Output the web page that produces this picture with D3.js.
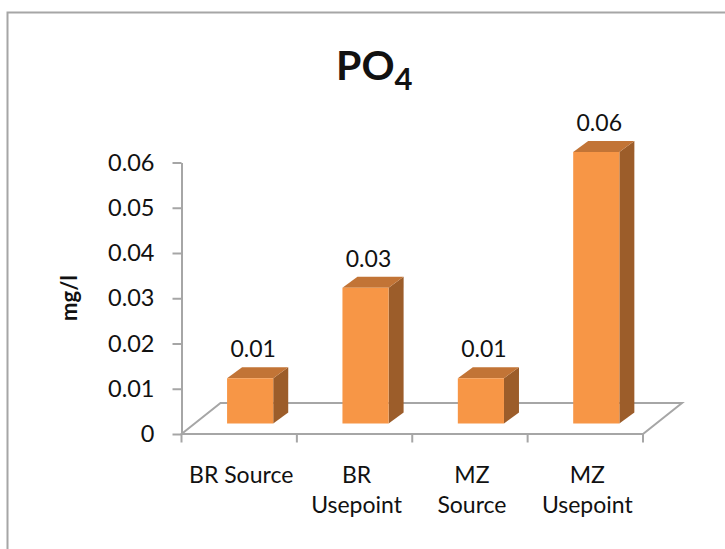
<!DOCTYPE html>
<html>
<head>
<meta charset="utf-8">
<script src="https://cdn.jsdelivr.net/npm/d3@7"></script>
<style>
  body { margin: 0; background: #fff; }
  text { font-family: Lato, "Open Sans", sans-serif; fill: #111; }
</style>
</head>
<body>
<script>
// data
const categories = [["BR Source"], ["BR", "Usepoint"], ["MZ", "Source"], ["MZ", "Usepoint"]];
const values = [0.01, 0.03, 0.01, 0.06];
const yTicks = [0, 0.01, 0.02, 0.03, 0.04, 0.05, 0.06];

const width = 725;
const height = 549;

var svg = d3.select('body')
    .append('svg')
    .attr('width', width)
    .attr('height', height);

// chart area border (runs off the right and bottom edge)
svg.append('rect')
    .attr('x', 7.5)
    .attr('y', 12.5)
    .attr('width', 760)
    .attr('height', 600)
    .attr('fill', 'none')
    .attr('stroke', '#a6a6a6')
    .attr('stroke-width', 2);

// title PO4
var title = svg.append('text')
    .attr('x', 336)
    .attr('y', 79.5)
    .attr('font-weight', 'bold')
    .attr('font-size', 41);
title.append('tspan').text('PO');
title.append('tspan').attr('font-size', 31).attr('dy', 10.5).text('4');

var y = d3.scaleLinear().domain([0, 0.06]).range([434, 162.5]);
var keys = categories.map(c => c.join(' '));
var x = d3.scaleBand().domain(keys).range([181.5, 643]).padding(0);

// floor depth and bar depth
const floorDx = 39, floorDy = -31;
const barShiftX = 13, barShiftY = -10.5;
const barDx = 15, barDy = -11;

// floor outline
var x0 = x.range()[0], x1 = x.range()[1], y0 = y(0);
svg.append('path')
    .attr('d', `M${x0},${y0} L${x0 + floorDx},${y0 + floorDy} L${x1 + floorDx},${y0 + floorDy} L${x1},${y0} Z`)
    .attr('fill', 'none')
    .attr('stroke', '#a6a6a6')
    .attr('stroke-width', 2);

// bars
var bars = svg.selectAll('g.bar')
    .data(values)
    .join('g')
    .attr('class', 'bar');

bars.each(function(d, i) {
    var g = d3.select(this);
    var bx = x(keys[i]) + x.bandwidth() * 0.395;
    var bw = x.bandwidth() * 0.4;
    var top = y(d) + barShiftY;
    var bot = y(0) + barShiftY;

    // side face
    g.append('path')
        .attr('d', `M${bx + bw},${top} L${bx + bw + barDx},${top + barDy} L${bx + bw + barDx},${bot + barDy} L${bx + bw},${bot} Z`)
        .attr('fill', '#9c5d2a');
    // top face
    g.append('path')
        .attr('d', `M${bx},${top} L${bx + barDx},${top + barDy} L${bx + bw + barDx},${top + barDy} L${bx + bw},${top} Z`)
        .attr('fill', '#c27436');
    // front face
    g.append('rect')
        .attr('x', bx)
        .attr('y', top)
        .attr('width', bw)
        .attr('height', bot - top)
        .attr('fill', '#f79646');

    // value label
    g.append('text')
        .attr('x', bx + bw / 2 + 3)
        .attr('y', top + barDy - 10)
        .attr('text-anchor', 'middle')
        .attr('font-size', 23)
        .text(d3.format('.2f')(d));
});

// y axis
var yAxis = svg.append('g')
    .attr('transform', `translate(${x0},0)`)
    .call(d3.axisLeft(y).tickValues(yTicks)
        .tickFormat(d => d === 0 ? '0' : d3.format('.2f')(d))
        .tickSize(9).tickSizeOuter(0).tickPadding(18));
yAxis.select('.domain').attr('stroke', '#a6a6a6').attr('stroke-width', 2);
yAxis.selectAll('.tick line').attr('stroke', '#a6a6a6').attr('stroke-width', 2);
yAxis.selectAll('.tick text').attr('font-size', 23.5).attr('font-family', 'Lato, sans-serif').attr('fill', '#111');

// category ticks on front floor edge
var edges = keys.map(k => x(k)).concat([x1]);
svg.selectAll('line.xtick')
    .data(edges)
    .join('line')
    .attr('class', 'xtick')
    .attr('x1', d => d)
    .attr('x2', d => d)
    .attr('y1', y0)
    .attr('y2', y0 + 8.5)
    .attr('stroke', '#a6a6a6')
    .attr('stroke-width', 2);

// category labels
svg.selectAll('text.xlab')
    .data(categories)
    .join('text')
    .attr('class', 'xlab')
    .attr('text-anchor', 'middle')
    .attr('font-size', 23)
    .each(function(lines, i) {
        var t = d3.select(this);
        lines.forEach((ln, j) => {
            t.append('tspan')
                .attr('x', x(keys[i]) + x.bandwidth() / 2 + 2)
                .attr('y', 483 + j * 30)
                .text(ln);
        });
    });

// y axis title
svg.append('text')
    .attr('transform', 'translate(77,298) rotate(-90)')
    .attr('text-anchor', 'middle')
    .attr('font-weight', 'bold')
    .attr('font-size', 22)
    .text('mg/l');
</script>
</body>
</html>
